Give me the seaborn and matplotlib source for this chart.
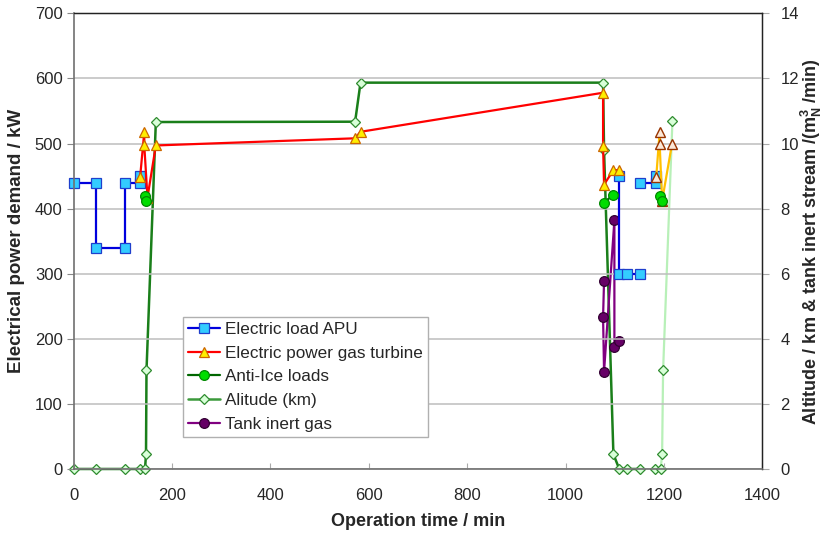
import matplotlib
matplotlib.use("Agg")
import matplotlib.pyplot as plt
from matplotlib.lines import Line2D
import seaborn as sns
import pandas as pd

# ---- data (time in min) ----
# Electric load APU [kW] (segments)
apu_t1 = [0, 45, 45, 105, 105, 135, 135]
apu_kw1 = [440, 440, 340, 340, 440, 440, 450]
apu_t2 = [1109, 1109, 1124, 1152]
apu_kw2 = [450, 300, 300, 300]
apu_t3 = [1152, 1184, 1184]
apu_kw3 = [440, 440, 450]

# Electric power gas turbine [kW]
gt_t1 = [135, 143.5, 143.5, 150, 167, 572, 583, 1076, 1076, 1078, 1097, 1109]
gt_kw1 = [448, 518, 497, 417, 497, 508, 518, 578, 496, 437, 459, 459]
gt_t2 = [1184, 1191, 1191, 1196, 1216]
gt_kw2 = [448, 518, 499, 412, 499]

# Anti-Ice loads [kW]
ai_t1 = [145, 148]
ai_kw1 = [420, 412]
ai_t2 = [1077, 1097]
ai_kw2 = [409, 421]
ai_t3 = [1192, 1196]
ai_kw3 = [420, 411]

# Altitude [km]
alt_t1 = [0, 45, 105, 135, 145, 147, 148, 167, 572, 583, 1076, 1078, 1097, 1109, 1124, 1152]
alt_km1 = [0, 0, 0, 0, 0, 0.45, 3.03, 10.66, 10.67, 11.87, 11.87, 9.8, 0.45, 0, 0, 0]
alt_t2 = [1182, 1193, 1196, 1198, 1217]
alt_km2 = [0, 0, 0.45, 3.03, 10.7]

# Tank inert gas [m3_N/min]
tank_t = [1078, 1076, 1078, 1099, 1099, 1109]
tank_v = [5.78, 4.67, 2.99, 7.64, 3.76, 3.93]

sns.set_style("white")
plt.rcParams["font.family"] = ["Liberation Sans", "DejaVu Sans"]
plt.rcParams["mathtext.fontset"] = "custom"
plt.rcParams["mathtext.rm"] = "Liberation Sans"
plt.rcParams["mathtext.bf"] = "Liberation Sans:bold"

fig = plt.figure(figsize=(8.26, 5.35), dpi=100)
ax = fig.add_axes([0.0892, 0.1234, 0.8339, 0.8517])
ax2 = ax.twinx()


def seg(axis, t, v, **kw):
    df = pd.DataFrame({"t": t, "v": v})
    sns.lineplot(data=df, x="t", y="v", ax=axis, sort=False, estimator=None,
                 legend=False, clip_on=False, **kw)


apu_style = dict(color="#0000dd", lw=1.6, marker="s", ms=6.5,
                 markerfacecolor="#33ccff", markeredgecolor="#1f3fcc", markeredgewidth=0.9)
gt_style = dict(color="#ff0000", lw=1.6, marker="^", ms=7,
                markerfacecolor="#ffee00", markeredgecolor="#cc6600", markeredgewidth=0.9)
gt2_style = dict(color="#ffc000", lw=1.6, marker="^", ms=7,
                 markerfacecolor="#fbe8d8", markeredgecolor="#993300", markeredgewidth=1.0)
ai_style = dict(color="#006600", lw=1.6, marker="o", ms=7,
                markerfacecolor="#00dd00", markeredgecolor="#008800", markeredgewidth=0.9)
alt_style = dict(color="#1a7f1a", lw=1.8, marker="D", ms=5,
                 markerfacecolor="#d8ffd8", markeredgecolor="#2e8b2e", markeredgewidth=0.9)
alt2_style = dict(color="#b8f0b8", lw=1.6, marker="D", ms=5,
                  markerfacecolor="#d8ffd8", markeredgecolor="#2e8b2e", markeredgewidth=0.9)
tank_style = dict(color="#800080", lw=1.6, marker="o", ms=7,
                  markerfacecolor="#660066", markeredgecolor="#330033", markeredgewidth=0.9)

# right axis series
seg(ax2, alt_t1, alt_km1, **alt_style)
seg(ax2, alt_t2, alt_km2, **alt2_style)
seg(ax2, tank_t, tank_v, **tank_style)

# left axis series
for t, v in [(apu_t1, apu_kw1), (apu_t2, apu_kw2), (apu_t3, apu_kw3)]:
    seg(ax, t, v, **apu_style)
seg(ax, gt_t1, gt_kw1, **gt_style)
seg(ax, gt_t2, gt_kw2, **gt2_style)
for t, v in [(ai_t1, ai_kw1), (ai_t2, ai_kw2), (ai_t3, ai_kw3)]:
    seg(ax, t, v, **ai_style)

ax.set_zorder(2)
ax.patch.set_visible(False)
ax2.set_zorder(1)

ax.set_xlim(0, 1400)
ax.set_ylim(0, 700)
ax.set_xticks(range(0, 1401, 200))
ax.set_yticks(range(0, 701, 100))
ax2.set_ylim(0, 14)
ax2.set_yticks(range(0, 15, 2))
ax.yaxis.grid(True, color="#bdbdbd", lw=1.1)
ax.set_axisbelow(True)
ax2.grid(False)

ax.tick_params(axis="y", labelsize=12, length=5, width=0.8, color="#888888", pad=3, direction="out", left=True)
ax.tick_params(axis="x", labelsize=12, length=4, width=0.8, color="#aaaaaa", pad=14, direction="in", bottom=True)
ax2.tick_params(axis="y", labelsize=12, length=5, width=0.8, color="#aaaaaa", pad=8, direction="out", right=True)

for sp in ["left", "bottom"]:
    ax.spines[sp].set_color("#707070")
    ax.spines[sp].set_linewidth(1.2)
for sp in ["top", "right"]:
    ax.spines[sp].set_color("#222222")
    ax2.spines[sp].set_color("#222222")
    ax2.spines[sp].set_linewidth(1.0)
ax2.spines["left"].set_visible(False)
ax2.spines["bottom"].set_visible(False)

ax.set_xlabel("Operation time / min", fontsize=13, fontweight="bold", labelpad=7)
ax.set_ylabel("Electrical power demand / kW", fontsize=13.5, fontweight="bold", labelpad=7)
ax2.set_ylabel(r"Altitude / km & tank inert stream /(m$_{\mathbf{N}}^{\mathbf{3}}$ /min)",
               fontsize=13, fontweight="bold", labelpad=0)

handles = [
    Line2D([], [], **apu_style),
    Line2D([], [], **gt_style),
    Line2D([], [], **ai_style),
    Line2D([], [], **dict(alt_style, color="#3c9a3c")),
    Line2D([], [], **tank_style),
]
labels = ["Electric load APU", "Electric power gas turbine", "Anti-Ice loads",
          "Alitude (km)", "Tank inert gas"]
leg = ax.legend(handles, labels, loc="upper left", bbox_to_anchor=(0.158, 0.333),
                fontsize=12.3, frameon=True, fancybox=False, framealpha=1,
                edgecolor="#b0b0b0", handlelength=1.9, handletextpad=0.3,
                labelspacing=0.5, borderpad=0.3, borderaxespad=0)
leg.get_frame().set_linewidth(1.0)

fig.savefig("out.png", dpi=100)
